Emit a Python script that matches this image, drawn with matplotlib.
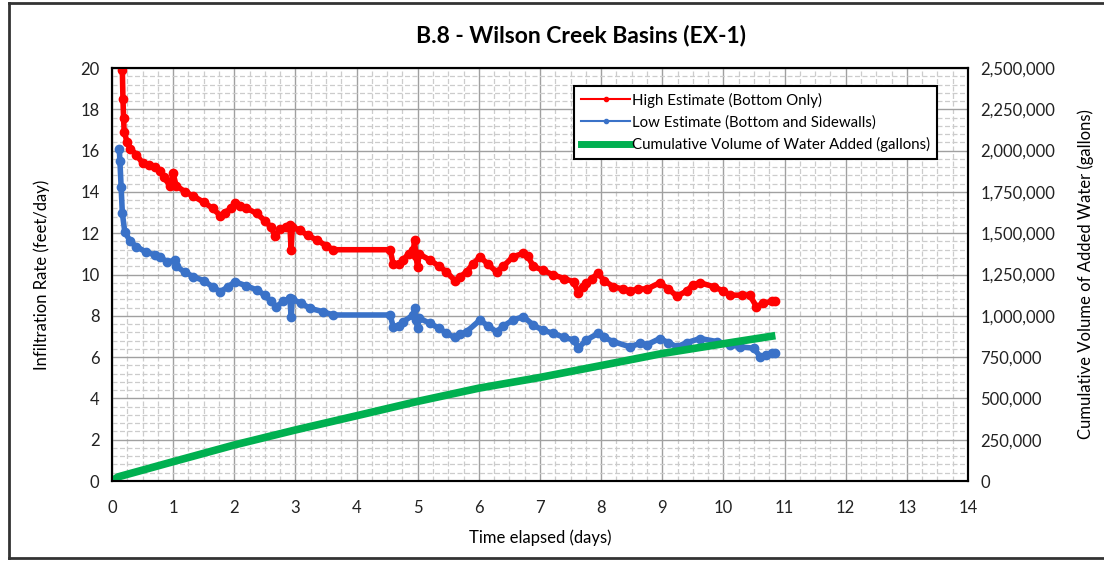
import numpy as np
import matplotlib
matplotlib.use("Agg")
import matplotlib.pyplot as plt
from matplotlib.lines import Line2D
from matplotlib.ticker import MultipleLocator, FuncFormatter

plt.rcParams['font.family'] = ['Lato', 'DejaVu Sans']

# high estimate (bottom only), feet/day
high_t = [0.17, 0.18, 0.19, 0.2, 0.25, 0.3, 0.4, 0.5, 0.6, 0.7, 0.79, 0.85, 0.95, 1.0, 1.05,
          1.2, 1.33, 1.5, 1.65, 1.77, 1.85, 1.95, 2.01, 2.1, 2.2, 2.37, 2.5, 2.6, 2.67, 2.75,
          2.85, 2.91, 2.93, 2.95, 3.07, 3.2, 3.35, 3.5, 3.62, 4.55, 4.6, 4.7, 4.76, 4.85, 4.93,
          4.95, 4.97, 5.0, 5.02, 5.2, 5.35, 5.47, 5.61, 5.7, 5.8, 5.9, 6.02, 6.15, 6.29, 6.4,
          6.56, 6.73, 6.8, 6.89, 7.05, 7.22, 7.4, 7.55, 7.63, 7.7, 7.76, 7.85, 7.95, 8.05, 8.2,
          8.35, 8.47, 8.6, 8.75, 8.96, 9.1, 9.24, 9.4, 9.5, 9.62, 9.84, 10.0, 10.11, 10.3, 10.43,
          10.54, 10.65, 10.79, 10.85]
high_rate = [19.9, 18.5, 17.6, 16.9, 16.4, 16.1, 15.8, 15.4, 15.3, 15.2, 15.0, 14.7, 14.3, 14.9, 14.3,
             14.0, 13.8, 13.5, 13.2, 12.85, 13.0, 13.2, 13.45, 13.3, 13.2, 12.96, 12.6, 12.3, 11.85, 12.2,
             12.3, 12.4, 11.2, 12.3, 12.15, 11.9, 11.67, 11.4, 11.2, 11.2, 10.5, 10.5, 10.7, 11.0, 11.2,
             11.65, 10.9, 10.35, 11.0, 10.7, 10.4, 10.13, 9.7, 9.9, 10.13, 10.5, 10.86, 10.5, 10.13, 10.4,
             10.86, 11.03, 10.9, 10.4, 10.2, 9.98, 9.8, 9.65, 9.1, 9.4, 9.57, 9.8, 10.06, 9.7, 9.41,
             9.3, 9.2, 9.3, 9.3, 9.6, 9.3, 8.95, 9.2, 9.5, 9.6, 9.41, 9.2, 9.0, 9.0, 9.0,
             8.45, 8.6, 8.7, 8.7]

# low estimate (bottom and sidewalls), feet/day
low_t = [0.12, 0.13, 0.15, 0.17, 0.21, 0.3, 0.4, 0.55, 0.7, 0.79, 0.9, 1.03, 1.05, 1.2, 1.33,
         1.5, 1.65, 1.77, 1.9, 2.01, 2.2, 2.37, 2.5, 2.6, 2.69, 2.8, 2.91, 2.93, 2.95, 3.1,
         3.24, 3.45, 3.62, 4.55, 4.6, 4.7, 4.76, 4.93, 4.95, 4.97, 5.0, 5.02, 5.2, 5.35, 5.47,
         5.61, 5.7, 5.8, 6.02, 6.15, 6.29, 6.4, 6.56, 6.73, 6.89, 7.05, 7.22, 7.4, 7.55, 7.63,
         7.76, 7.95, 8.05, 8.2, 8.47, 8.64, 8.75, 8.96, 9.1, 9.24, 9.4, 9.62, 9.9, 10.1, 10.27,
         10.5, 10.6, 10.7, 10.79, 10.85]
low_rate = [16.1, 15.5, 14.25, 12.97, 12.07, 11.6, 11.35, 11.1, 10.95, 10.86, 10.6, 10.7, 10.4, 10.1, 9.9,
            9.7, 9.4, 9.17, 9.4, 9.65, 9.45, 9.25, 9.0, 8.7, 8.44, 8.7, 8.85, 7.96, 8.8, 8.6,
            8.36, 8.2, 8.04, 8.04, 7.47, 7.5, 7.71, 8.04, 8.36, 7.8, 7.4, 7.9, 7.63, 7.4, 7.15,
            6.95, 7.1, 7.23, 7.8, 7.5, 7.23, 7.5, 7.8, 7.96, 7.55, 7.3, 7.15, 6.95, 6.83, 6.45,
            6.83, 7.15, 6.95, 6.75, 6.5, 6.67, 6.6, 6.9, 6.7, 6.5, 6.7, 6.9, 6.75, 6.6, 6.5,
            6.43, 6.02, 6.1, 6.18, 6.2]

# cumulative volume of water added, gallons
vol_t = [0, 0.1, 1, 2, 3, 4, 5, 6, 7, 8, 9, 10, 10.85]
vol_gal = [0, 25000, 117000, 218000, 309000, 395000, 482000, 562000, 627000, 699000, 772000, 831000, 880000]

fig = plt.figure(figsize=(11.04, 5.62), dpi=100)
ax = fig.add_axes([0.1014, 0.1441, 0.7754, 0.7349])
ax2 = ax.twinx()

ax.set_xlim(0, 14)
ax.set_ylim(0, 20)
ax2.set_ylim(0, 2500000)

ax.xaxis.set_major_locator(MultipleLocator(1))
ax.xaxis.set_minor_locator(MultipleLocator(0.25))
ax.yaxis.set_major_locator(MultipleLocator(2))
ax.yaxis.set_minor_locator(MultipleLocator(0.4))
ax2.yaxis.set_major_locator(MultipleLocator(250000))
ax2.yaxis.set_major_formatter(FuncFormatter(lambda v, p: "{:,.0f}".format(v)))

ax.grid(which='major', color='#a0a0a0', lw=1.0)
ax.grid(which='minor', color='#cccccc', lw=0.9, ls=(0, (4, 2)))
ax.set_axisbelow(True)

for a in (ax, ax2):
    for s in a.spines.values():
        s.set_color('black')
        s.set_linewidth(1.5)
    a.tick_params(which='both', length=0, labelsize=12, colors='#222222', pad=9)
ax.tick_params(axis='x', pad=14)

ax.plot(high_t, high_rate, color='#ff0000', lw=4, marker='o', ms=6, zorder=3)
ax.plot(low_t, low_rate, color='#3a72c8', lw=4, marker='o', ms=6, zorder=3)
ax2.plot(vol_t, vol_gal, color='#00b050', lw=5.5, solid_capstyle='butt', zorder=2)

ax.set_xlabel("Time elapsed (days)", fontsize=12, labelpad=9)
ax.set_ylabel("Infiltration Rate (feet/day)", fontsize=12, labelpad=22)
ax2.set_ylabel("Cumulative Volume of Added Water (gallons)", fontsize=12, labelpad=16)
fig.text(581/1104, 1 - 35/562, "B.8 - Wilson Creek Basins (EX-1)", fontsize=16.5,
         fontweight='bold', ha='center', va='center')

handles = [Line2D([], [], color='#ff0000', lw=1.5, marker='o', ms=3),
           Line2D([], [], color='#3a72c8', lw=1.5, marker='o', ms=3),
           Line2D([], [], color='#00b050', lw=5)]
labels = ["High Estimate (Bottom Only)", "Low Estimate (Bottom and Sidewalls)",
          "Cumulative Volume of Water Added (gallons)"]
leg = ax2.legend(handles, labels, loc='upper left', bbox_to_anchor=(0.531, 0.975),
                 fontsize=10.8, frameon=True, fancybox=False, framealpha=1,
                 handlelength=3.3, handletextpad=0.1, borderpad=0.45, labelspacing=0.5)
leg.get_frame().set_edgecolor('black')
leg.get_frame().set_linewidth(1.5)

# outer frame of the picture
fig.add_artist(Line2D([9/1104, 9/1104], [4/562, 1 - 3/562], color='#333333', lw=2))
fig.add_artist(Line2D([9/1104, 1], [1 - 3/562, 1 - 3/562], color='#333333', lw=2))
fig.add_artist(Line2D([9/1104, 1], [4/562, 4/562], color='#333333', lw=2))

fig.savefig("out.png", dpi=100)
